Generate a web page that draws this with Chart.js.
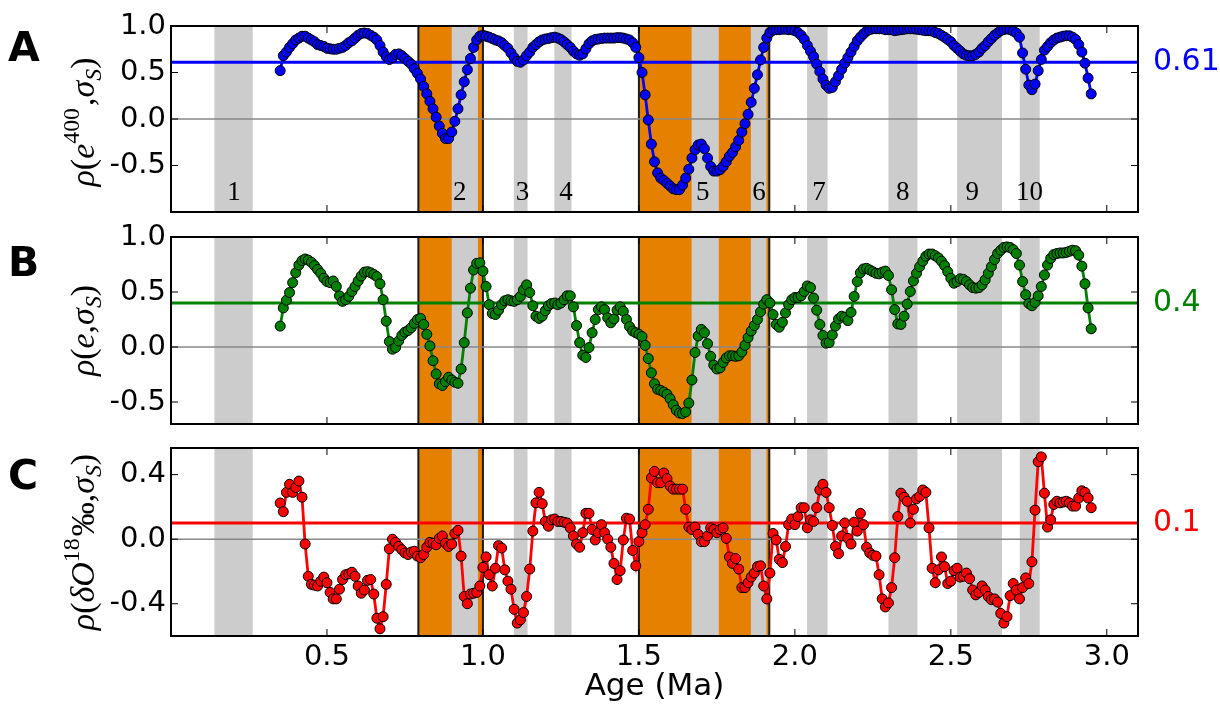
<!DOCTYPE html>
<html>
<head>
<meta charset="utf-8">
<script src="https://cdn.jsdelivr.net/npm/chart.js@4.4.0/dist/chart.umd.min.js"></script>
<style>
  html, body { margin: 0; padding: 0; background: #fff; }
  #wrap { position: relative; width: 1220px; height: 706px; }
  .panel { position: absolute; left: 0; }
</style>
</head>
<body>
<div id="wrap">
  <div class="panel" style="top:0px"><canvas id="chartA" width="1220" height="218"></canvas></div>
  <div class="panel" style="top:216px"><canvas id="chartB" width="1220" height="214"></canvas></div>
  <div class="panel" style="top:430px"><canvas id="chartC" width="1220" height="276"></canvas></div>
</div>
<script>
// ages run from 0.35 Ma in 0.01 Ma steps
const AGE_START = 0.35;
const AGE_STEP = 0.01;

// panel A: rho(e^400, sigma_S)
const rhoE400 = [
  0.52, 0.68, 0.72, 0.77, 0.81, 0.85, 0.87, 0.89, 0.89, 0.87,
  0.85, 0.83, 0.80, 0.79, 0.78, 0.76, 0.755, 0.75, 0.75, 0.76,
  0.77, 0.79, 0.82, 0.84, 0.87, 0.90, 0.92, 0.925, 0.92, 0.90,
  0.88, 0.85, 0.79, 0.72, 0.67, 0.64, 0.66, 0.695, 0.70, 0.68,
  0.65, 0.62, 0.59, 0.54, 0.49, 0.43, 0.35, 0.27, 0.19, 0.11,
  0.02, -0.075, -0.155, -0.21, -0.21, -0.14, -0.025, 0.11, 0.26, 0.40,
  0.53, 0.65, 0.77, 0.85, 0.89, 0.90, 0.89, 0.88, 0.865, 0.85,
  0.84, 0.82, 0.79, 0.76, 0.71, 0.66, 0.62, 0.61, 0.635, 0.68,
  0.72, 0.77, 0.80, 0.83, 0.85, 0.86, 0.865, 0.875, 0.88, 0.87,
  0.855, 0.83, 0.80, 0.77, 0.73, 0.70, 0.685, 0.70, 0.755, 0.81,
  0.84, 0.855, 0.86, 0.865, 0.87, 0.87, 0.87, 0.87, 0.875, 0.875,
  0.87, 0.86, 0.85, 0.82, 0.77, 0.66, 0.50, 0.26, -0.01, -0.27,
  -0.46, -0.58, -0.635, -0.66, -0.69, -0.72, -0.75, -0.76, -0.76, -0.71,
  -0.635, -0.54, -0.42, -0.33, -0.28, -0.27, -0.32, -0.42, -0.51, -0.56,
  -0.56, -0.545, -0.51, -0.46, -0.40, -0.36, -0.30, -0.23, -0.14, -0.05,
  0.05, 0.18, 0.33, 0.475, 0.635, 0.77, 0.87, 0.93, 0.955, 0.96,
  0.96, 0.965, 0.965, 0.96, 0.96, 0.95, 0.93, 0.90, 0.855, 0.79,
  0.73, 0.67, 0.59, 0.51, 0.43, 0.365, 0.33, 0.34, 0.40, 0.465,
  0.535, 0.60, 0.66, 0.72, 0.78, 0.84, 0.88, 0.915, 0.945, 0.96,
  0.97, 0.97, 0.97, 0.97, 0.96, 0.96, 0.96, 0.95, 0.955, 0.96,
  0.965, 0.97, 0.97, 0.97, 0.965, 0.96, 0.955, 0.95, 0.95, 0.945,
  0.93, 0.92, 0.90, 0.88, 0.855, 0.83, 0.79, 0.76, 0.73, 0.70,
  0.685, 0.68, 0.68, 0.695, 0.72, 0.76, 0.79, 0.83, 0.865, 0.90,
  0.925, 0.95, 0.96, 0.97, 0.96, 0.945, 0.925, 0.88, 0.71, 0.535,
  0.365, 0.315, 0.375, 0.52, 0.64, 0.74, 0.78, 0.82, 0.85, 0.87,
  0.88, 0.89, 0.895, 0.895, 0.88, 0.855, 0.80, 0.72, 0.60, 0.44,
  0.27
];

// panel B: rho(e, sigma_S)
const rhoE = [
  0.19, 0.355, 0.425, 0.495, 0.585, 0.675, 0.745, 0.785, 0.80, 0.79,
  0.77, 0.74, 0.705, 0.67, 0.625, 0.595, 0.585, 0.60, 0.55, 0.465,
  0.415, 0.43, 0.46, 0.505, 0.55, 0.60, 0.645, 0.68, 0.685, 0.675,
  0.66, 0.64, 0.575, 0.43, 0.235, 0.05, -0.02, -0.005, 0.055, 0.105,
  0.135, 0.15, 0.175, 0.215, 0.25, 0.26, 0.205, 0.115, 0.01, -0.125,
  -0.245, -0.335, -0.35, -0.315, -0.275, -0.30, -0.32, -0.33, -0.20, 0.04,
  0.31, 0.535, 0.70, 0.76, 0.765, 0.69, 0.55, 0.385, 0.305, 0.295,
  0.335, 0.385, 0.42, 0.43, 0.42, 0.415, 0.43, 0.46, 0.52, 0.565,
  0.495, 0.375, 0.28, 0.26, 0.28, 0.33, 0.375, 0.395, 0.40, 0.385,
  0.40, 0.43, 0.465, 0.465, 0.365, 0.195, 0.04, -0.075, -0.095, -0.005,
  0.13, 0.25, 0.34, 0.365, 0.34, 0.265, 0.22, 0.255, 0.335, 0.365,
  0.325, 0.25, 0.185, 0.145, 0.13, 0.115, 0.095, 0.015, -0.105, -0.235,
  -0.335, -0.385, -0.395, -0.41, -0.43, -0.47, -0.525, -0.575, -0.60, -0.605,
  -0.59, -0.51, -0.30, -0.05, 0.10, 0.16, 0.13, 0.03, -0.085, -0.165,
  -0.20, -0.19, -0.14, -0.10, -0.08, -0.08, -0.085, -0.08, -0.045, 0.015,
  0.085, 0.145, 0.195, 0.25, 0.32, 0.39, 0.43, 0.40, 0.295, 0.205,
  0.18, 0.225, 0.31, 0.385, 0.43, 0.45, 0.45, 0.465, 0.505, 0.555,
  0.54, 0.445, 0.335, 0.205, 0.105, 0.035, 0.04, 0.11, 0.19, 0.255,
  0.28, 0.27, 0.24, 0.315, 0.46, 0.595, 0.675, 0.71, 0.715, 0.70,
  0.685, 0.67, 0.665, 0.68, 0.69, 0.65, 0.52, 0.34, 0.21, 0.205,
  0.28, 0.39, 0.505, 0.60, 0.67, 0.73, 0.78, 0.825, 0.845, 0.845,
  0.83, 0.81, 0.78, 0.74, 0.685, 0.625, 0.58, 0.595, 0.62, 0.615,
  0.595, 0.565, 0.54, 0.535, 0.54, 0.565, 0.61, 0.67, 0.73, 0.795,
  0.85, 0.88, 0.905, 0.91, 0.905, 0.885, 0.85, 0.745, 0.595, 0.475,
  0.395, 0.375, 0.405, 0.465, 0.55, 0.655, 0.745, 0.805, 0.84, 0.85,
  0.855, 0.855, 0.86, 0.87, 0.88, 0.875, 0.835, 0.735, 0.575, 0.355,
  0.165
];

// panel C: rho(dO18, sigma_S)
const rhoD18O = [
  0.224, 0.17, 0.29, 0.34, 0.29, 0.32, 0.36, 0.26, -0.03, -0.23,
  -0.28, -0.285, -0.29, -0.26, -0.235, -0.27, -0.33, -0.37, -0.37, -0.31,
  -0.25, -0.22, -0.215, -0.205, -0.23, -0.29, -0.335, -0.315, -0.255, -0.25,
  -0.34, -0.49, -0.555, -0.48, -0.28, -0.06, 0.0, -0.02, -0.045, -0.065,
  -0.085, -0.095, -0.08, -0.075, -0.105, -0.115, -0.095, -0.05, -0.02, -0.025,
  -0.035, 0.005, 0.02, -0.025, -0.045, -0.03, 0.035, 0.055, -0.105, -0.355,
  -0.40, -0.34, -0.335, -0.33, -0.29, -0.175, -0.11, -0.22, -0.29, -0.18,
  -0.04, -0.055, -0.19, -0.26, -0.31, -0.435, -0.52, -0.50, -0.455, -0.355,
  -0.185, 0.05, 0.225, 0.29, 0.22, 0.11, 0.08, 0.12, 0.125, 0.11,
  0.11, 0.105, 0.10, 0.07, 0.02, -0.03, -0.05, 0.04, 0.16, 0.16,
  0.06, -0.005, 0.04, 0.09, 0.04, 0.0, -0.05, -0.15, -0.25, -0.195,
  -0.005, 0.13, 0.125, -0.07, -0.165, -0.015, 0.04, 0.09, 0.185, 0.38,
  0.42, 0.35, 0.35, 0.41, 0.375, 0.33, 0.31, 0.31, 0.31, 0.31,
  0.185, 0.075, 0.06, 0.075, 0.03, -0.015, -0.015, 0.02, 0.07, 0.06,
  0.04, 0.06, 0.07, 0.005, -0.11, -0.15, -0.12, -0.185, -0.30, -0.30,
  -0.27, -0.235, -0.21, -0.17, -0.165, -0.29, -0.37, -0.21, 0.035, -0.005,
  -0.125, -0.145, -0.045, 0.09, 0.125, 0.09, 0.14, 0.195, 0.195, 0.07,
  0.12, 0.11, 0.195, 0.305, 0.34, 0.29, 0.195, 0.085, -0.045, -0.09,
  0.02, 0.10, 0.005, -0.03, 0.105, 0.05, 0.16, 0.09, -0.05, -0.085,
  -0.10, -0.105, -0.22, -0.37, -0.42, -0.395, -0.30, -0.115, 0.14, 0.285,
  0.26, 0.235, 0.10, 0.185, 0.25, 0.265, 0.305, 0.29, 0.07, -0.18,
  -0.27, -0.19, -0.11, -0.17, -0.275, -0.26, -0.195, -0.18, -0.235, -0.23,
  -0.21, -0.245, -0.315, -0.345, -0.33, -0.29, -0.315, -0.355, -0.375, -0.37,
  -0.39, -0.46, -0.52, -0.48, -0.35, -0.275, -0.315, -0.37, -0.30, -0.24,
  -0.275, -0.14, 0.18, 0.48, 0.51, 0.285, 0.075, 0.12, 0.215, 0.235,
  0.225, 0.23, 0.235, 0.225, 0.205, 0.205, 0.255, 0.30, 0.29, 0.255,
  0.195
];

// mean correlation of each panel (horizontal line + label on the right)
const meanE400 = 0.61;
const meanE = 0.4;
const meanD18O = 0.1;

// shaded intervals in Ma
const orangeBands = [[0.793, 1.0], [1.5, 1.918]];
const grayBands = [
  [0.139, 0.262], [0.90, 0.984], [1.099, 1.143], [1.229, 1.284], [1.669, 1.756],
  [1.859, 1.909], [2.039, 2.105], [2.30, 2.393], [2.52, 2.664], [2.721, 2.785]
];
const bandNames = ['1', '2', '3', '4', '5', '6', '7', '8', '9', '10'];
const bandLabelAge = [0.202, 0.926, 1.127, 1.266, 1.705, 1.885, 2.077, 2.346, 2.569, 2.752];
const bandLabelLevel = -0.8;

const xTicks = [0, 0.5, 1.0, 1.5, 2.0, 2.5, 3.0];
const xLabelTicks = [0.5, 1.0, 1.5, 2.0, 2.5, 3.0];
const yTicksA = [-1.0, -0.5, 0.0, 0.5, 1.0];
const yTicksB = [-0.5, 0.0, 0.5, 1.0];
const yTicksC = [-0.4, 0.0, 0.4];

const ages = rhoE400.map((_, i) => +(AGE_START + i * AGE_STEP).toFixed(2));

const SANS = "'DejaVu Sans', sans-serif";
const SERIF = "'Liberation Serif', 'DejaVu Serif', serif";

// rotated y label with super/subscripts
function drawMathLabel(ctx, parts, baseX, cy, size) {
  ctx.save();
  ctx.translate(baseX, cy);
  ctx.rotate(-Math.PI / 2);
  ctx.fillStyle = '#000';
  ctx.textBaseline = 'alphabetic';
  ctx.textAlign = 'left';
  const fontOf = p => {
    const small = p[1] === 'sup' || p[1] === 'sub';
    const italic = p[1] === 'i' || p[1] === 'sub';
    return (italic ? 'italic ' : '') + (small ? size * 0.7 : size) + 'px ' + SERIF;
  };
  let total = 0;
  const widths = parts.map(p => {
    ctx.font = fontOf(p);
    const w = ctx.measureText(p[0]).width + (p[1] === 'sup' ? 2 : 0);
    total += w;
    return w;
  });
  let x = -total / 2;
  parts.forEach((p, i) => {
    ctx.font = fontOf(p);
    let dy = 0;
    if (p[1] === 'sup') dy = -size * 0.45;
    if (p[1] === 'sub') dy = size * 0.2;
    ctx.fillText(p[0], x, dy);
    x += widths[i];
  });
  ctx.restore();
}

function makePanel(canvasId, cfg) {
  const decor = {
    id: 'decor_' + canvasId,
    beforeDatasetsDraw(chart) {
      const { ctx, chartArea: a, scales: { x, y } } = chart;
      ctx.save();
      ctx.beginPath();
      ctx.rect(a.left, a.top, a.right - a.left, a.bottom - a.top);
      ctx.clip();
      ctx.fillStyle = '#e68000';
      orangeBands.forEach(b => {
        const x0 = x.getPixelForValue(b[0]), x1 = x.getPixelForValue(b[1]);
        ctx.fillRect(x0, a.top, x1 - x0, a.bottom - a.top);
      });
      ctx.fillStyle = '#cccccc';
      grayBands.forEach(b => {
        const x0 = x.getPixelForValue(b[0]), x1 = x.getPixelForValue(b[1]);
        ctx.fillRect(x0, a.top, x1 - x0, a.bottom - a.top);
      });
      ctx.strokeStyle = '#1a1a1a';
      ctx.lineWidth = 2;
      orangeBands.forEach(b => {
        b.forEach(v => {
          const px = x.getPixelForValue(v);
          ctx.beginPath();
          ctx.moveTo(px, a.top);
          ctx.lineTo(px, a.bottom);
          ctx.stroke();
        });
      });
      const y0 = y.getPixelForValue(0);
      ctx.strokeStyle = '#888888';
      ctx.lineWidth = 1.5;
      ctx.beginPath();
      ctx.moveTo(a.left, y0);
      ctx.lineTo(a.right, y0);
      ctx.stroke();
      ctx.restore();
    },
    afterDatasetsDraw(chart) {
      const { ctx, chartArea: a, scales: { x, y } } = chart;
      ctx.save();
      // inward ticks on all four sides
      ctx.strokeStyle = '#000';
      ctx.lineWidth = 1;
      const t = 7;
      xTicks.forEach(v => {
        const px = x.getPixelForValue(v);
        ctx.beginPath();
        ctx.moveTo(px, a.bottom); ctx.lineTo(px, a.bottom - t);
        ctx.moveTo(px, a.top); ctx.lineTo(px, a.top + t);
        ctx.stroke();
      });
      cfg.yTicks.forEach(v => {
        const py = y.getPixelForValue(v);
        ctx.beginPath();
        ctx.moveTo(a.left, py); ctx.lineTo(a.left + t, py);
        ctx.moveTo(a.right, py); ctx.lineTo(a.right - t, py);
        ctx.stroke();
      });
      ctx.lineWidth = 2;
      ctx.strokeRect(a.left, a.top, a.right - a.left, a.bottom - a.top);
      if (cfg.bandLabels) {
        ctx.fillStyle = '#000';
        ctx.font = '27px ' + SERIF;
        ctx.textAlign = 'center';
        ctx.textBaseline = 'middle';
        bandNames.forEach((n, i) => {
          ctx.fillText(n, x.getPixelForValue(bandLabelAge[i]), y.getPixelForValue(bandLabelLevel));
        });
      }
      ctx.restore();
    },
    afterDraw(chart) {
      const { ctx, chartArea: a, scales: { y } } = chart;
      ctx.save();
      ctx.fillStyle = '#000';
      ctx.font = 'bold 41px ' + SANS;
      ctx.textAlign = 'left';
      ctx.textBaseline = 'middle';
      ctx.fillText(cfg.letter, 8, a.top + cfg.letterOffset);
      ctx.fillStyle = cfg.color;
      ctx.font = '30px ' + SANS;
      ctx.fillText(cfg.meanText, a.right + 15, y.getPixelForValue(cfg.mean));
      ctx.restore();
      drawMathLabel(ctx, cfg.yLabel, 94, (a.top + a.bottom) / 2 + cfg.labelShift, 34);
    }
  };

  const showX = !!cfg.showX;
  return new Chart(document.getElementById(canvasId), {
    type: 'line',
    data: {
      datasets: [
        {
          data: cfg.values.map((v, i) => ({ x: ages[i], y: v })),
          borderColor: cfg.color,
          backgroundColor: cfg.color,
          borderWidth: 2.8,
          pointRadius: 5,
          pointBackgroundColor: cfg.color,
          pointBorderColor: '#000',
          pointBorderWidth: 1,
          order: 1
        },
        {
          data: [{ x: 0, y: cfg.mean }, { x: 3.1, y: cfg.mean }],
          borderColor: cfg.color,
          borderWidth: 3,
          pointRadius: 0,
          order: 2
        }
      ]
    },
    options: {
      responsive: false,
      animation: false,
      events: [],
      layout: { padding: cfg.padding },
      plugins: { legend: { display: false }, tooltip: { enabled: false } },
      scales: {
        x: {
          type: 'linear',
          min: 0,
          max: 3.1,
          display: showX,
          grid: { display: false, drawTicks: false },
          border: { display: false },
          afterBuildTicks: s => { s.ticks = xLabelTicks.map(v => ({ value: v })); },
          afterFit: s => {
            if (showX) s.height = 70;
            s.paddingLeft = 0;
            s.paddingRight = 0;
          },
          ticks: {
            padding: 4,
            color: '#000',
            font: { family: SANS, size: 29 },
            callback: v => v.toFixed(1)
          },
          title: {
            display: showX,
            text: 'Age (Ma)',
            color: '#000',
            font: { family: SANS, size: 31 },
            padding: { top: 0, bottom: 0 }
          }
        },
        y: {
          min: cfg.yMin,
          max: cfg.yMax,
          grid: { display: false, drawTicks: false },
          border: { display: false },
          afterBuildTicks: s => { s.ticks = cfg.yLabelTicks.map(v => ({ value: v })); },
          afterFit: s => {
            s.width = 171;
            s.paddingTop = 0;
            s.paddingBottom = 0;
          },
          ticks: {
            padding: 5,
            color: '#000',
            font: { family: SANS, size: 29 },
            callback: v => v.toFixed(1)
          }
        }
      }
    },
    plugins: [decor]
  });
}

makePanel('chartA', {
  values: rhoE400, mean: meanE400, meanText: '0.61', color: '#0000ff',
  yMin: -1.0, yMax: 1.0, yTicks: yTicksA, yLabelTicks: [-0.5, 0.0, 0.5, 1.0],
  padding: { top: 26, right: 82, bottom: 5, left: 0 },
  letter: 'A', letterOffset: 24, bandLabels: true, labelShift: 3,
  yLabel: [['ρ', 'i'], ['(', 'n'], ['e', 'i'], ['400', 'sup'], [',', 'n'], ['σ', 'i'], ['S', 'sub'], [')', 'n']]
});

makePanel('chartB', {
  values: rhoE, mean: meanE, meanText: '0.4', color: '#008000',
  yMin: -0.7, yMax: 1.0, yTicks: yTicksB, yLabelTicks: yTicksB,
  padding: { top: 21, right: 82, bottom: 5, left: 0 },
  letter: 'B', letterOffset: 28, labelShift: 0,
  yLabel: [['ρ', 'i'], ['(', 'n'], ['e', 'i'], [',', 'n'], ['σ', 'i'], ['S', 'sub'], [')', 'n']]
});

makePanel('chartC', {
  values: rhoD18O, mean: meanD18O, meanText: '0.1', color: '#ff0000',
  yMin: -0.6, yMax: 0.565, yTicks: yTicksC, yLabelTicks: yTicksC,
  padding: { top: 18, right: 82, bottom: 0, left: 0 },
  letter: 'C', letterOffset: 30, showX: true, labelShift: 0,
  yLabel: [['ρ', 'i'], ['(', 'n'], ['δ', 'i'], ['O', 'i'], ['18', 'sup'], ['‰', 'n'], [',', 'n'], ['σ', 'i'], ['S', 'sub'], [')', 'n']]
});
</script>
</body>
</html>
